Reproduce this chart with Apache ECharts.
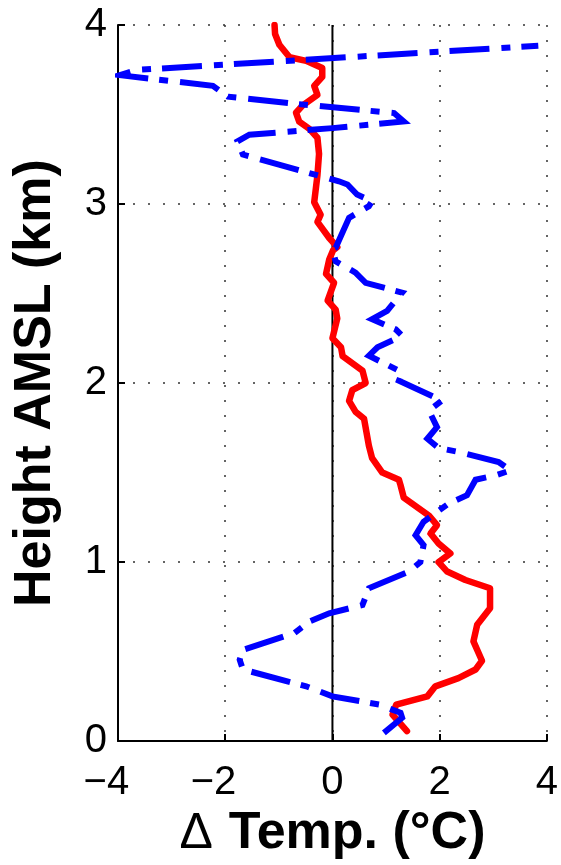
<!DOCTYPE html>
<html>
<head>
<meta charset="utf-8">
<script src="https://cdn.jsdelivr.net/npm/echarts@6/dist/echarts.min.js"></script>
<style>
  html, body { margin: 0; padding: 0; background: #fff; }
  #chart { width: 561px; height: 865px; }
</style>
</head>
<body>
<div id="chart"></div>
<script>
// Temperature difference profile: two soundings, ΔT (°C) vs height (km AMSL)
const solidProfile = [
  [1.39, 0.056], [1.12, 0.148], [1.19, 0.204], [1.77, 0.25], [1.92, 0.306],
  [2.35, 0.352], [2.67, 0.40], [2.79, 0.449], [2.63, 0.557], [2.70, 0.65],
  [2.94, 0.742], [2.94, 0.854], [2.48, 0.90], [2.14, 0.947], [1.98, 1.0],
  [2.20, 1.048], [1.98, 1.104], [1.83, 1.16], [1.95, 1.206], [1.80, 1.26],
  [1.33, 1.36], [1.27, 1.43], [1.24, 1.46], [0.93, 1.50], [0.74, 1.58],
  [0.68, 1.65], [0.59, 1.80], [0.43, 1.84], [0.31, 1.90], [0.37, 1.96],
  [0.62, 2.00], [0.56, 2.07], [0.19, 2.15], [0.16, 2.20], [0.0, 2.25],
  [0.09, 2.36], [0.06, 2.41], [-0.09, 2.46], [0.03, 2.56], [-0.12, 2.61],
  [-0.06, 2.69], [0.01, 2.74], [0.09, 2.76], [-0.06, 2.81], [-0.28, 2.90],
  [-0.22, 2.94], [-0.34, 3.01], [-0.28, 3.16], [-0.25, 3.28], [-0.28, 3.37],
  [-0.43, 3.42], [-0.62, 3.46], [-0.68, 3.51], [-0.56, 3.55], [-0.28, 3.61],
  [-0.34, 3.66], [-0.19, 3.71], [-0.19, 3.76], [-0.49, 3.80], [-0.80, 3.82],
  [-0.99, 3.89], [-1.07, 3.95], [-1.08, 4.0]
];

const dashDotProfile = [
  [0.96, 0.046], [1.30, 0.13], [1.27, 0.158], [0.87, 0.204], [0.0, 0.25],
  [-0.49, 0.306], [-1.67, 0.40], [-1.73, 0.454], [-1.67, 0.51], [-0.71, 0.603],
  [-0.43, 0.668], [-0.06, 0.714], [0.56, 0.76], [0.68, 0.854], [1.43, 0.947],
  [1.64, 1.0], [1.70, 1.095], [1.55, 1.15], [1.70, 1.225], [1.95, 1.28],
  [2.17, 1.327], [2.51, 1.373], [2.67, 1.46], [3.04, 1.484], [3.32, 1.512],
  [3.10, 1.559], [2.35, 1.615], [1.98, 1.637], [1.77, 1.689], [1.95, 1.754],
  [1.80, 1.846], [2.04, 1.902], [1.24, 2.013], [1.30, 2.06], [0.68, 2.153],
  [0.84, 2.20], [1.30, 2.264], [1.18, 2.30], [0.74, 2.357], [1.02, 2.403],
  [1.30, 2.505], [0.62, 2.56], [0.43, 2.617], [0.06, 2.68], [0.0, 2.747],
  [0.06, 2.756], [0.31, 2.923], [0.68, 2.988], [0.74, 3.016], [0.46, 3.053],
  [0.28, 3.109], [0.12, 3.127], [-1.67, 3.276], [-1.77, 3.35], [-1.55, 3.387],
  [0.0, 3.424], [1.33, 3.461], [1.15, 3.508], [-0.80, 3.563], [-1.95, 3.60],
  [-2.23, 3.66], [-3.97, 3.72], [-3.65, 3.749], [3.84, 3.884]
];

// vertical reference at ΔT = 0
const zeroLine = [[0, 0], [0, 4]];

const xTicks = { min: -4, max: 4, step: 2 };
const yTicks = { min: 0, max: 4, step: 1 };

const FONT = "'Liberation Sans', Arial, Helvetica, sans-serif";

const chart = echarts.init(document.getElementById('chart'), null, { renderer: 'canvas' });

const axisCommon = {
  type: 'value',
  axisLine: { show: true, onZero: false, lineStyle: { color: '#000', width: 2 } },
  axisTick: { show: true, inside: true, length: 7, lineStyle: { color: '#000', width: 2 } },
  splitLine: {
    show: true,
    showMinLine: false,
    lineStyle: { color: '#333', width: 1.5, type: [2, 13] }
  }
};

chart.setOption({
  animation: false,
  backgroundColor: '#fff',
  grid: { left: 118, right: 13, top: 25, bottom: 122, containLabel: false },
  xAxis: Object.assign({}, axisCommon, {
    min: xTicks.min, max: xTicks.max, interval: xTicks.step,
    name: '{d|Δ}{b|Temp. (°C)}',
    nameLocation: 'middle',
    nameGap: 62,
    nameTextStyle: {
      fontFamily: FONT, color: '#000', verticalAlign: 'top',
      rich: {
        d: { fontFamily: FONT, fontSize: 50, fontWeight: 'normal', color: '#000', padding: [0, 16, 0, 0] },
        b: { fontFamily: FONT, fontSize: 52, fontWeight: 'bold', color: '#000' }
      }
    },
    axisLabel: {
      margin: 22,
      fontFamily: FONT, fontSize: 40, color: '#000',
      formatter: function (v) {
        if (v < 0) return '−' + Math.abs(v) + '{h|−}';
        return String(v);
      },
      rich: { h: { fontFamily: FONT, fontSize: 40, color: 'rgba(0,0,0,0)' } }
    }
  }),
  yAxis: Object.assign({}, axisCommon, {
    min: yTicks.min, max: yTicks.max, interval: yTicks.step,
    name: 'Height AMSL (km)',
    nameLocation: 'middle',
    nameGap: 56,
    nameRotate: 90,
    nameTextStyle: { fontFamily: FONT, fontSize: 52, fontWeight: 'bold', color: '#000' },
    axisLabel: { margin: 11, fontFamily: FONT, fontSize: 40, color: '#000' }
  }),
  series: [
    {
      name: 'zero', type: 'line', data: zeroLine, symbol: 'none', silent: true,
      lineStyle: { color: '#000', width: 2 }, z: 1
    },
    {
      name: 'solid', type: 'line', data: solidProfile, symbol: 'none',
      lineStyle: { color: '#ff0000', width: 6.5, join: 'round', cap: 'round' }, z: 2
    },
    {
      name: 'dashdot', type: 'line', data: dashDotProfile, symbol: 'none',
      lineStyle: { color: '#0000ff', width: 6, type: [40, 12, 9, 11], cap: 'butt', join: 'miter' }, z: 3
    }
  ]
});
</script>
</body>
</html>
